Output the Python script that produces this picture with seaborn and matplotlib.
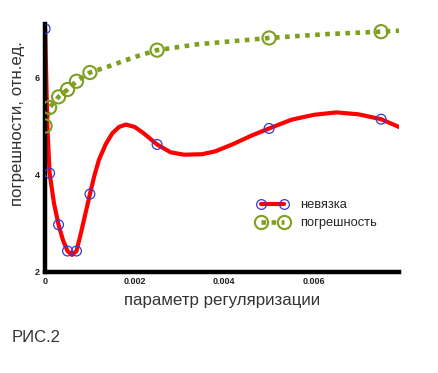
import numpy as np
import pandas as pd
import seaborn as sns
import matplotlib.pyplot as plt
from matplotlib.lines import Line2D

# values (x in units of the regularisation parameter)
# red curve "невязка"
nev_x = [0, 0.00005, 0.0001, 0.0002, 0.0003, 0.0004, 0.0005, 0.0006, 0.0007, 0.0008,
         0.0009, 0.001, 0.0011, 0.0012, 0.00135, 0.0015, 0.00165, 0.0018, 0.002, 0.0022,
         0.0025, 0.0028, 0.0031, 0.0035, 0.0038, 0.0042, 0.0046, 0.005, 0.0055, 0.006,
         0.0065, 0.007, 0.0075, 0.0079]
nev_y = [7.0, 5.0, 4.03, 3.4, 2.97, 2.65, 2.43, 2.35, 2.43, 2.8,
         3.2, 3.6, 3.98, 4.3, 4.62, 4.85, 4.98, 5.03, 4.98, 4.85,
         4.62, 4.46, 4.41, 4.42, 4.48, 4.63, 4.8, 4.95, 5.13, 5.23,
         5.28, 5.24, 5.14, 4.98]
nev_mx = [0, 0.0001, 0.0003, 0.0005, 0.0007, 0.001, 0.0025, 0.005, 0.0075]
nev_my = [7.0, 4.03, 2.97, 2.43, 2.43, 3.6, 4.62, 4.95, 5.14]

# green curve "погрешность"
pog_x = [0, 0.0001, 0.0003, 0.0005, 0.0007, 0.001, 0.0014, 0.002, 0.0025, 0.0034,
         0.005, 0.0063, 0.0075, 0.0079]
pog_y = [5.0, 5.38, 5.6, 5.75, 5.92, 6.1, 6.22, 6.42, 6.56, 6.68,
         6.81, 6.89, 6.94, 6.96]
pog_mx = [0, 0.0001, 0.0003, 0.0005, 0.0007, 0.001, 0.0025, 0.005, 0.0075]
pog_my = [5.0, 5.38, 5.6, 5.75, 5.92, 6.1, 6.56, 6.81, 6.94]

xticks = [0, 0.002, 0.004, 0.006]
xtick_labels = ['0', '0.002', '0.004', '0.006']
yticks = [2, 4, 6]

red = '#ff0000'
blue = '#3a3acf'
green = '#7f9f1f'

sns.set_style('white')
plt.rcParams['font.family'] = ['Liberation Sans', 'DejaVu Sans']

fig = plt.figure(figsize=(4.38, 3.73), dpi=100)
ax = fig.add_axes([0.103, 0.271, 0.808, 0.665])

df_nev = pd.DataFrame({'x': nev_x, 'y': nev_y})
df_pog = pd.DataFrame({'x': pog_x, 'y': pog_y})

sns.lineplot(data=df_pog, x='x', y='y', ax=ax, color=green, lw=3.3,
             linestyle=(0, (1, 1.2)), estimator=None, sort=False)
sns.lineplot(data=df_nev, x='x', y='y', ax=ax, color=red, lw=3,
             estimator=None, sort=False)
sns.scatterplot(x=pog_mx, y=pog_my, ax=ax, s=90, facecolors='none',
                edgecolor=green, linewidth=1.5, zorder=4)
sns.scatterplot(x=nev_mx, y=nev_my, ax=ax, s=50, facecolors='none',
                edgecolor=blue, linewidth=0.9, zorder=5)

ax.set_xlim(0, 0.0079)
ax.set_ylim(2, 7.1)
ax.set_xticks(xticks)
ax.set_xticklabels(xtick_labels)
ax.set_yticks(yticks)
ax.tick_params(direction='in', length=4, width=1, labelsize=6.5, pad=4,
               colors='#222222')
for lab in ax.get_xticklabels() + ax.get_yticklabels():
    lab.set_fontweight('bold')

for s in ['top', 'right']:
    ax.spines[s].set_visible(False)
for s in ['left', 'bottom']:
    ax.spines[s].set_linewidth(3.2)
    ax.spines[s].set_color('black')

ax.set_xlabel('параметр регуляризации', fontsize=12.2, color='#333333', labelpad=5)
ax.set_ylabel('погрешности, отн.ед.', fontsize=12.2, color='#333333')
ax.yaxis.set_label_coords(-0.058, 0.6)

handles = [
    Line2D([], [], color=red, lw=3, marker='o', markersize=7,
           markerfacecolor='none', markeredgecolor=blue, markeredgewidth=0.9),
    Line2D([], [], color=green, lw=3.3, linestyle=(0, (1, 1.2)), marker='o',
           markersize=9.5, markerfacecolor='none', markeredgecolor=green,
           markeredgewidth=1.5),
]
ax.legend(handles, ['невязка', 'погрешность'], numpoints=2, frameon=False,
          loc='upper left', bbox_to_anchor=(0.565, 0.34), fontsize=9.3,
          handlelength=2.4, handletextpad=1.0, labelspacing=0.45)

fig.text(0.027, 0.082, 'РИС.2', fontsize=12, color='#333333')

fig.savefig('out.png', dpi=100)
